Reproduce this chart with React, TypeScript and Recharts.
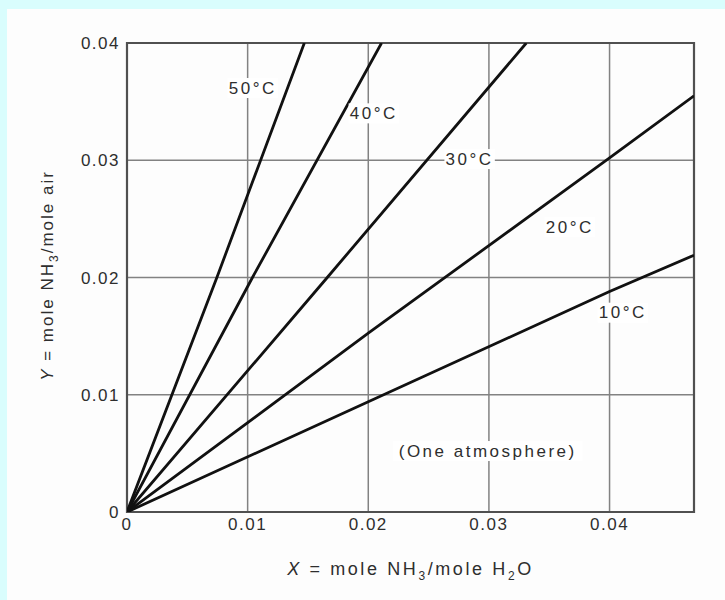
import {
  LineChart,
  Line,
  XAxis,
  YAxis,
  CartesianGrid,
  ReferenceArea,
  ReferenceDot,
} from 'recharts';

// Equilibrium curves for NH3 in water
const temps = ['50°C', '40°C', '30°C', '20°C', '10°C'];

const x50 = [0, 0.00745, 0.0147];
const y50 = [0, 0.02, 0.04];
const x40 = [0, 0.0104, 0.0211];
const y40 = [0, 0.02, 0.04];
const x30 = [0, 0.0166, 0.0331];
const y30 = [0, 0.02, 0.04];
const x20 = [0, 0.02, 0.04, 0.047];
const y20 = [0, 0.01525, 0.0302, 0.0355];
const x10 = [0, 0.02, 0.04, 0.047];
const y10 = [0, 0.0094, 0.0188, 0.0219];

const xTicks = [0, 0.01, 0.02, 0.03, 0.04];
const yTicks = [0, 0.01, 0.02, 0.03, 0.04];
const xTickLabels = ['0', '0.01', '0.02', '0.03', '0.04'];
const yTickLabels = ['0', '0.01', '0.02', '0.03', '0.04'];

// where each curve label sits (data coords)
const labelX = [0.01043, 0.02046, 0.0284, 0.0367, 0.0411];
const labelY = [0.03616, 0.034, 0.0301, 0.0243, 0.017];
const noteText = '(One atmosphere)';
const noteX = 0.0299;
const noteY = 0.0052;

const seriesX = [x50, x40, x30, x20, x10];
const seriesY = [y50, y40, y30, y20, y10];

const series = temps.map((t, i) => ({
  name: t,
  data: seriesX[i].map((x, j) => ({ x, y: seriesY[i][j] })),
}));

const FONT = '"Liberation Sans", Arial, sans-serif';
const TEXT = '#2e2e2e';

function BoxLabel(props: any) {
  const { viewBox, value } = props;
  if (!viewBox) return null;
  const cx = viewBox.x + (viewBox.width || 0) / 2;
  const cy = viewBox.y + (viewBox.height || 0) / 2;
  const w = String(value).length * 11.6 + 4;
  return (
    <g>
      <rect x={cx - w / 2} y={cy - 10} width={w} height={20} fill="#fff" />
      <text
        x={cx}
        y={cy}
        textAnchor="middle"
        dominantBaseline="central"
        fill={TEXT}
        fontFamily={FONT}
        fontSize={17}
        style={{ letterSpacing: 2.5 }}
      >
        {value}
      </text>
    </g>
  );
}

function XTitle(props: any) {
  const { viewBox } = props;
  const cx = viewBox.x + viewBox.width / 2;
  return (
    <text
      x={cx}
      y={575}
      textAnchor="middle"
      fill={TEXT}
      fontFamily={FONT}
      fontSize={18}
      style={{ letterSpacing: 2.6 }}
    >
      <tspan fontStyle="italic">X</tspan>
      <tspan> = mole NH</tspan>
      <tspan fontSize={12} dy={5}>3</tspan>
      <tspan dy={-5}>/mole H</tspan>
      <tspan fontSize={12} dy={5}>2</tspan>
      <tspan dy={-5}>O</tspan>
    </text>
  );
}

function YTitle(props: any) {
  const { viewBox } = props;
  const cy = viewBox.y + viewBox.height / 2 - 2;
  const cx = 53;
  return (
    <text
      x={cx}
      y={cy}
      textAnchor="middle"
      transform={`rotate(-90 ${cx} ${cy})`}
      fill={TEXT}
      fontFamily={FONT}
      fontSize={17}
      style={{ letterSpacing: 2 }}
    >
      <tspan fontStyle="italic">Y</tspan>
      <tspan> = mole NH</tspan>
      <tspan fontSize={12} dy={5}>3</tspan>
      <tspan dy={-5}>/mole air</tspan>
    </text>
  );
}

const tickStyle = {
  fill: TEXT,
  fontSize: 17,
  fontFamily: FONT,
  style: { letterSpacing: 1.5 },
};

export default function App() {
  return (
    <div
      style={{
        position: 'absolute',
        left: 0,
        top: 0,
        width: 725,
        height: 600,
        background: '#d9fdfd',
      }}
    >
      <div
        style={{
          position: 'absolute',
          left: 7,
          top: 9,
          right: 0,
          bottom: 0,
          background: '#fdfdfd',
        }}
      />
      <div style={{ position: 'absolute', left: 0, top: 0 }}>
        <LineChart
          width={725}
          height={600}
          margin={{ top: 43, right: 31, left: 67, bottom: 48 }}
        >
          <CartesianGrid
            stroke="#828282"
            strokeWidth={1.5}
            horizontalValues={yTicks}
            verticalValues={xTicks}
          />
          <XAxis
            dataKey="x"
            type="number"
            domain={[0, 0.047]}
            ticks={xTicks}
            tickFormatter={(v: number) => xTickLabels[xTicks.indexOf(v)] ?? ''}
            tick={tickStyle}
            tickLine={false}
            tickSize={0}
            tickMargin={6}
            axisLine={false}
            height={40}
            allowDataOverflow
            label={{ content: XTitle }}
          />
          <YAxis
            type="number"
            domain={[0, 0.04]}
            ticks={yTicks}
            tickFormatter={(v: number) => yTickLabels[yTicks.indexOf(v)] ?? ''}
            tick={tickStyle}
            tickLine={false}
            tickSize={0}
            tickMargin={7}
            axisLine={false}
            width={60}
            allowDataOverflow
            label={{ content: YTitle }}
          />
          <ReferenceArea
            x1={0}
            x2={0.047}
            y1={0}
            y2={0.04}
            fill="none"
            stroke="#505050"
            strokeWidth={2.2}
            ifOverflow="visible"
          />
          {series.map((s) => (
            <Line
              key={s.name}
              data={s.data}
              dataKey="y"
              name={s.name}
              type="linear"
              stroke="#111"
              strokeWidth={2.8}
              dot={false}
              isAnimationActive={false}
            />
          ))}
          {temps.map((t, i) => (
            <ReferenceDot
              key={t}
              x={labelX[i]}
              y={labelY[i]}
              r={1}
              fill="none"
              stroke="none"
              label={{ value: t, content: BoxLabel }}
            />
          ))}
          <ReferenceDot
            x={noteX}
            y={noteY}
            r={1}
            fill="none"
            stroke="none"
            label={{ value: noteText, content: BoxLabel }}
          />
        </LineChart>
      </div>
    </div>
  );
}
